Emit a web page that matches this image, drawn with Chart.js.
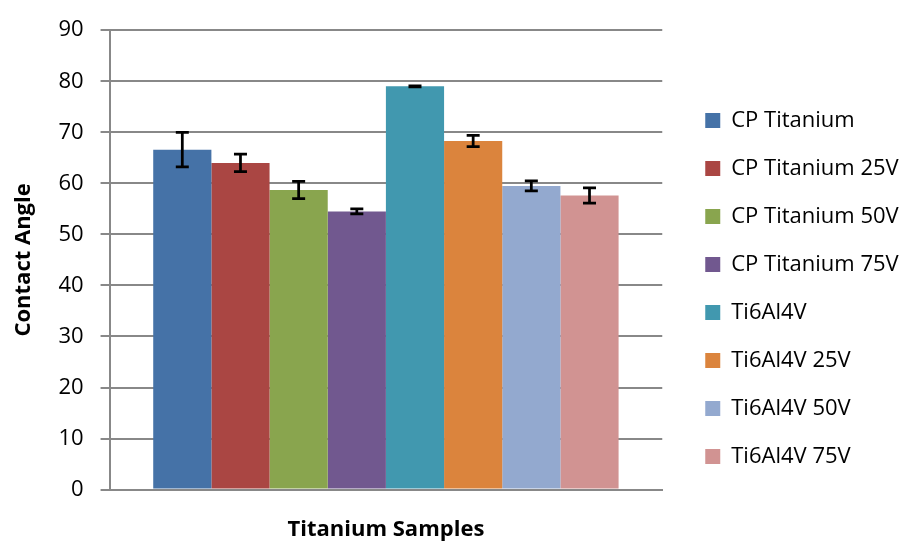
<!DOCTYPE html>
<html>
<head>
<meta charset="utf-8">
<script src="https://cdn.jsdelivr.net/npm/chart.js@4"></script>
<style>
  html, body { margin: 0; padding: 0; background: #ffffff; }
  #wrap { width: 907px; height: 543px; position: relative; }
</style>
</head>
<body>
<div id="wrap"><canvas id="c"></canvas></div>
<script>
// Contact angle of titanium samples, mean and standard deviation per sample
const categories = [''];
const sampleNames = [
  'CP Titanium', 'CP Titanium 25V', 'CP Titanium 50V', 'CP Titanium 75V',
  'Ti6Al4V', 'Ti6Al4V 25V', 'Ti6Al4V 50V', 'Ti6Al4V 75V'
];
const contactAngle = [66.6, 64.0, 58.7, 54.5, 79.0, 68.3, 59.5, 57.6];
const angleError = [3.4, 1.7, 1.7, 0.5, 0.1, 1.1, 1.0, 1.5];
const yTicks = [0, 10, 20, 30, 40, 50, 60, 70, 80, 90];
const sampleColors = [
  '#4572A7', '#AA4643', '#89A54E', '#71588F',
  '#4198AF', '#DB843D', '#93A9CF', '#D19392'
];

const FONT = '"Open Sans", "Noto Sans", sans-serif';
const AXIS_GREY = '#888888';

// Draws symmetric error bars centred on each bar top
const errorBars = {
  id: 'errorBars',
  afterDatasetsDraw(chart) {
    const ctx = chart.ctx;
    const y = chart.scales.y;
    ctx.save();
    ctx.strokeStyle = '#000000';
    ctx.lineWidth = 2.75;
    chart.data.datasets.forEach((ds, i) => {
      const meta = chart.getDatasetMeta(i);
      if (meta.hidden) return;
      meta.data.forEach((el, j) => {
        const v = ds.data[j];
        const e = ds.errors[j];
        const top = y.getPixelForValue(v + e);
        const bot = y.getPixelForValue(v - e);
        const half = 6.5;
        ctx.beginPath();
        ctx.moveTo(el.x, top); ctx.lineTo(el.x, bot);
        ctx.moveTo(el.x - half, top); ctx.lineTo(el.x + half, top);
        ctx.moveTo(el.x - half, bot); ctx.lineTo(el.x + half, bot);
        ctx.stroke();
      });
    });
    ctx.restore();
  }
};

// Leaves some white space between the plot area and the legend,
// and lowers the legend column slightly
const legendGap = {
  id: 'legendGap',
  afterLayout(chart) {
    const gap = 17;
    const area = chart.chartArea;
    area.right -= gap;
    area.width -= gap;
    const x = chart.scales.x;
    x.right -= gap;
    x.width -= gap;
    x.configure();
    chart.legend.top += 13;
  }
};

const datasets = sampleNames.map((name, i) => ({
  label: name,
  data: [contactAngle[i]],
  errors: [angleError[i]],
  backgroundColor: sampleColors[i],
  borderWidth: 0
}));

new Chart(document.getElementById('c'), {
  type: 'bar',
  data: { labels: categories, datasets },
  plugins: [legendGap, errorBars],
  options: {
    responsive: true,
    maintainAspectRatio: false,
    animation: false,
    layout: { padding: { top: 21, right: 5, left: 11, bottom: 0 } },
    datasets: { bar: { barPercentage: 1.0, categoryPercentage: 0.842 } },
    plugins: {
      tooltip: { enabled: false },
      legend: {
        position: 'right',
        align: 'center',
        labels: {
          color: '#000000',
          font: { family: FONT, size: 22 },
          boxWidth: 15,
          boxHeight: 15,
          padding: 26
        }
      }
    },
    scales: {
      x: {
        grid: { display: false, drawTicks: false },
        border: { display: true, color: AXIS_GREY, width: 2 },
        ticks: { display: false },
        title: {
          display: true,
          text: 'Titanium Samples',
          color: '#000000',
          font: { family: FONT, size: 22, weight: 'bold' },
          padding: { top: 27, bottom: 0 }
        }
      },
      y: {
        min: 0,
        max: 90,
        afterBuildTicks(scale) { scale.ticks = yTicks.map(v => ({ value: v })); },
        grid: { color: AXIS_GREY, lineWidth: 2, tickLength: 9 },
        border: { display: true, color: AXIS_GREY, width: 2 },
        ticks: {
          color: '#000000',
          font: { family: FONT, size: 22 },
          padding: 17
        },
        title: {
          display: true,
          text: 'Contact Angle',
          color: '#000000',
          font: { family: FONT, size: 22, weight: 'bold' },
          padding: { top: 0, bottom: 4 }
        }
      }
    }
  }
});
</script>
</body>
</html>
